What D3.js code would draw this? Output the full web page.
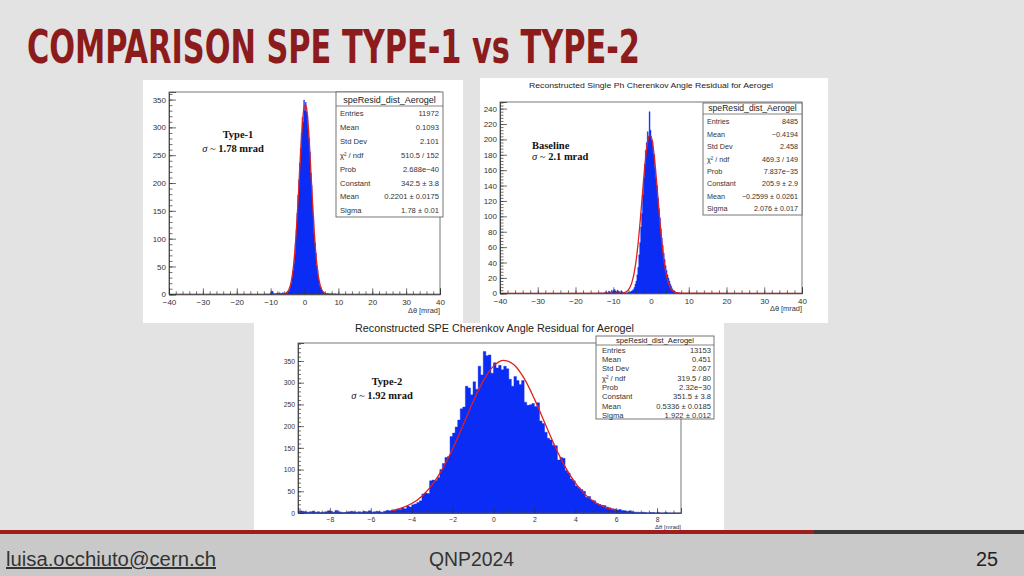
<!DOCTYPE html>
<html><head><meta charset="utf-8">
<script src="https://cdn.jsdelivr.net/npm/d3@7/dist/d3.min.js"></script>
<style>html,body{margin:0;padding:0;background:#e3e3e3;overflow:hidden}</style>
</head><body><svg id="c" width="1024" height="576"></svg>
<script>
// ---------------- DATA ----------------
const slideTitle = "COMPARISON SPE TYPE-1 vs TYPE-2";
const footerTexts = ["luisa.occhiuto@cern.ch", "QNP2024", "25"];

// Panel 1 (Type-1)
const type1Start = -12, type1Width = 0.25;
const type1Counts = [0,0,0,0,0,0,0,0,3,6,5,2,1,0,2,1,2,1,3,2,1,2,3,2,
  2,1,3,2,4,6,9,14,20,30,42,55,70,92,116,146,178,206,236,262,290,318,310,349,330,345,328,322,296,280,256,218,196,160,140,108,92,74,52,44,30,24,15,12,8,6,3,2,
  2,1,1,2,1,0,1,0,1,1,0,0,1,0,0,0];
const type1FitX = [-40,-8,-7,-6.5,-6,-5.5,-5,-4.5,-4,-3.5,-3,-2.5,-2,-1.5,-1,-0.5,0,0.5,1,1.5,2,2.5,3,3.5,4,4.5,5,5.5,6,6.5,7,8,40];
const type1FitY = [0,0.01,0.09,0.28,0.76,1.96,4.65,10.2,20.6,38.6,66.7,106.6,157.4,214.7,270.8,315.6,339.9,338.3,311.2,264.5,207.7,150.8,101.2,62.7,35.9,19.0,9.3,4.2,1.76,0.68,0.24,0.02,0];
const type1XTicks = [-40,-30,-20,-10,0,10,20,30,40];
const type1YTicks = [0,50,100,150,200,250,300,350];
const type1StatLabels = ["Entries","Mean","Std Dev","χ² / ndf","Prob","Constant","Mean","Sigma"];
const type1StatValues = ["11972","0.1093","2.101","510.5 / 152","2.688e−40","342.5 ± 3.8","0.2201 ± 0.0175","1.78 ± 0.01"];

// Panel 2 (Baseline)
const baseStart = -14, baseWidth = 0.25;
const baseCounts = [0,0,0,0,0,0,0,1,2,0,1,3,2,1,4,2,3,5,3,2,4,3,2,1,3,2,1,0,
  0,1,0,1,1,2,2,3,4,5,8,12,16,24,34,50,66,86,104,128,150,168,186,196,210,204,236,212,200,198,182,180,162,150,140,124,110,98,84,72,62,52,44,36,30,24,20,16,12,9,6,4,3,
  2,1,1,0,1,0,0];
const baseFitX = [-40,-8,-7,-6.5,-6,-5.5,-5,-4.5,-4,-3.5,-3,-2.5,-2,-1.5,-1,-0.5,0,0.5,1,1.5,2,2.5,3,3.5,4,4.5,5,5.5,6,7,8,40];
const baseFitY = [0,0.08,1.06,2.25,4.5,8.5,15.2,25.6,40.6,60.9,86.2,115.0,144.9,172.3,193.2,204.5,204.3,192.6,171.3,143.7,113.8,85.1,60.0,39.9,25.1,14.9,8.3,4.4,2.2,0.45,0.08,0];
const baseXTicks = [-40,-30,-20,-10,0,10,20,30,40];
const baseYTicks = [0,20,40,60,80,100,120,140,160,180,200,220,240];
const baseStatLabels = ["Entries","Mean","Std Dev","χ² / ndf","Prob","Constant","Mean","Sigma"];
const baseStatValues = ["8485","−0.4194","2.458","469.3 / 149","7.837e−35","205.9 ± 2.9","−0.2599 ± 0.0261","2.076 ± 0.017"];

// Panel 3 (Type-2)
const type2Start = -9.5, type2Width = 0.125;
const type2Counts = [5,4,3,2,3,4,2,3,1,2,3,5,4,2,6,3,2,1,2,3,4,3,2,3,2,4,3,5,2,3,4,3,2,4,6,5,
  7,6,9,8,12,10,16,14,19,21,24,28,44,46,45,74,76,75,82,100,114,128,130,176,184,198,214,240,244,292,
  288,272,302,285,338,318,372,362,364,322,346,334,340,330,338,332,308,292,314,305,296,305,255,248,249,252,245,254,212,206,
  186,172,168,156,155,122,128,126,98,92,78,74,62,58,54,50,36,38,30,28,22,20,18,17,14,12,10,9,7,8,6,5,4,5,3,2,
  2,1,2,1,0,1,1,0,1,0,0,1,0,0,0,0,0,0];
const type2FitX = [-5,-4.5,-4,-3.5,-3,-2.5,-2,-1.5,-1,-0.5,0,0.5,1,1.5,2,2.5,3,3.5,4,4.5,5,5.5,6];
const type2FitY = [5.6,11.4,21.8,38.8,64.9,101.1,147.4,200.8,255.6,304.2,338.2,351.5,341.3,309.8,262.8,208.3,154.3,106.9,69.1,41.8,23.6,12.5,6.2];
const type2XTicks = [-8,-6,-4,-2,0,2,4,6,8];
const type2YTicks = [0,50,100,150,200,250,300,350];
const type2StatLabels = ["Entries","Mean","Std Dev","χ² / ndf","Prob","Constant","Mean","Sigma"];
const type2StatValues = ["13153","0.451","2.067","319.5 / 80","2.32e−30","351.5 ± 3.8","0.5336 ± 0.0185","1.922 ± 0.012"];

const statTitle = "speResid_dist_Aerogel";
const axisTitle = "Δθ [mrad]";

// ---------------- DRAW ----------------
const svg = d3.select('#c');
svg.append('rect').attr('width',1024).attr('height',576).attr('fill','#e3e3e3');

// title
svg.append('text').attr('x',27).attr('y',63).text(slideTitle)
  .attr('font-family',"'Liberation Sans Narrow','DejaVu Sans Condensed',sans-serif")
  .attr('font-weight','bold').attr('font-size',47).attr('fill','#8c1b1b')
  .attr('textLength',613).attr('lengthAdjust','spacingAndGlyphs');

// footer
svg.append('rect').attr('x',0).attr('y',533).attr('width',1024).attr('height',43).attr('fill','#c9c9c9');

const BLUE = '#0a2cf5', RED = '#e0201c';
const SANS = "'Liberation Sans',Arial,sans-serif";
const SERIF = "'Liberation Serif','DejaVu Serif',serif";

function drawPanel(p) {
  const g = svg.append('g');
  g.append('rect').attr('x',p.bg[0]).attr('y',p.bg[1]).attr('width',p.bg[2]).attr('height',p.bg[3]).attr('fill','#fff');
  const x = d3.scaleLinear().domain(p.xDomain).range([p.l,p.r]);
  const y = d3.scaleLinear().domain(p.yDomain).range([p.b,p.t]);
  const clipId = 'clip'+p.id;
  g.append('clipPath').attr('id',clipId).append('rect').attr('x',p.l).attr('y',p.t).attr('width',p.r-p.l).attr('height',p.b-p.t);
  const pts = p.counts.map((c,i)=>[p.start+i*p.width, c]);
  pts.push([p.start+p.counts.length*p.width, p.counts[p.counts.length-1]]);
  const area = d3.area().x(d=>x(d[0])).y0(y(0)).y1(d=>y(d[1])).curve(d3.curveStepAfter);
  const hg = g.append('g').attr('clip-path',`url(#${clipId})`);
  hg.append('path').attr('d',area(pts)).attr('fill',BLUE).attr('stroke',BLUE).attr('stroke-width',0.4);
  const fit = p.fitX.map((v,i)=>[v,p.fitY[i]]);
  hg.append('path').attr('d',d3.line().x(d=>x(d[0])).y(d=>y(d[1])).curve(d3.curveMonotoneX)(fit))
    .attr('fill','none').attr('stroke',RED).attr('stroke-width',1.3);
  g.append('rect').attr('x',p.l).attr('y',p.t).attr('width',p.r-p.l).attr('height',p.b-p.t)
    .attr('fill','none').attr('stroke','#555').attr('stroke-width',0.8);
  const minorStart = p.xTicks[0]-Math.floor((p.xTicks[0]-p.xDomain[0])/p.xMinor)*p.xMinor;
  const xa = g.append('g').attr('transform',`translate(0,${p.b})`)
    .call(d3.axisBottom(x).tickValues(p.xTicks).tickSize(-p.tickX).tickPadding(p.padX));
  const xm = g.append('g').attr('transform',`translate(0,${p.b})`)
    .call(d3.axisBottom(x).tickValues(d3.range(minorStart, p.xDomain[1]+1e-9, p.xMinor)).tickSize(-p.tickX/2).tickFormat(''));
  const ya = g.append('g').attr('transform',`translate(${p.l},0)`)
    .call(d3.axisLeft(y).tickValues(p.yTicks).tickSize(-p.tickY).tickPadding(p.padY));
  const ym = g.append('g').attr('transform',`translate(${p.l},0)`)
    .call(d3.axisLeft(y).tickValues(d3.range(0, p.yDomain[1], p.yMinor)).tickSize(-p.tickY/2).tickFormat(''));
  [xa,xm,ya,ym].forEach(a=>{
    a.selectAll('.domain').attr('stroke','#333').attr('stroke-width',0.8);
    a.selectAll('line').attr('stroke','#333').attr('stroke-width',0.7);
    a.selectAll('text').attr('font-family',SANS).attr('font-size',p.fs).attr('fill','#333');
  });
  xm.selectAll('.domain').remove(); ym.selectAll('.domain').remove();
  g.append('text').attr('x',p.r).attr('y',p.axY).attr('text-anchor','end').text(axisTitle)
    .attr('font-family',SANS).attr('font-size',p.axFs).attr('fill','#333');
  if (p.title) {
    g.append('text').attr('x',p.title.x).attr('y',p.title.y).text(p.title.text)
      .attr('font-family',SANS).attr('font-size',p.title.fs).attr('fill','#222')
      .attr('textLength',p.title.len).attr('lengthAdjust','spacingAndGlyphs');
  }
  const s = p.stats;
  g.append('rect').attr('x',s.x).attr('y',s.y).attr('width',s.w).attr('height',s.h)
    .attr('fill','#fff').attr('stroke','#666').attr('stroke-width',0.9);
  g.append('line').attr('x1',s.x).attr('x2',s.x+s.w).attr('y1',s.sep).attr('y2',s.sep).attr('stroke','#666').attr('stroke-width',0.8);
  g.append('text').attr('x',s.x+s.w/2).attr('y',s.titleY).attr('text-anchor','middle').text(statTitle)
    .attr('font-family',SANS).attr('font-size',s.titleFs).attr('fill','#222');
  p.labels.forEach((lab,i)=>{
    const yy = s.row0 + i*s.step;
    g.append('text').attr('x',s.x+s.padL).attr('y',yy).text(lab)
      .attr('font-family',SANS).attr('font-size',s.fs).attr('fill','#333');
    g.append('text').attr('x',s.x+s.w-s.padR).attr('y',yy).attr('text-anchor','end').text(p.values[i])
      .attr('font-family',SANS).attr('font-size',s.fs).attr('fill','#333');
  });
  const a = p.note;
  g.append('text').attr('x',a.x1).attr('y',a.y1).attr('text-anchor',a.anchor).text(a.name)
    .attr('font-family',SERIF).attr('font-weight','bold').attr('font-size',a.fs).attr('fill','#111');
  const t2 = g.append('text').attr('x',a.x2).attr('y',a.y2).attr('text-anchor',a.anchor)
    .attr('font-family',SERIF).attr('font-size',a.fs).attr('fill','#111');
  t2.append('tspan').attr('font-style','italic').text('σ');
  t2.append('tspan').text(' ~ ');
  t2.append('tspan').attr('font-weight','bold').text(a.val);
}

drawPanel({id:1, bg:[143,80,320,243], l:169, r:440, t:92, b:294.3,
  xDomain:[-40,40], yDomain:[0,363.6], start:type1Start, width:type1Width, counts:type1Counts,
  fitX:type1FitX, fitY:type1FitY, xTicks:type1XTicks, yTicks:type1YTicks, xMinor:2, yMinor:10,
  tickX:6, tickY:7, padX:5, padY:3, fs:8, axY:313, axFs:7.4,
  stats:{x:336,y:92,w:107,h:125,sep:106,titleY:103,titleFs:9,row0:116,step:13.9,fs:7.6,padL:4,padR:4},
  labels:type1StatLabels, values:type1StatValues,
  note:{anchor:'middle', x1:238, y1:138, x2:233, y2:152, fs:10.5, name:'Type-1', val:'1.78 mrad'}});

drawPanel({id:2, bg:[480,78,348,245], l:500, r:802, t:102, b:293.3,
  xDomain:[-40,40], yDomain:[0,248.6], start:baseStart, width:baseWidth, counts:baseCounts,
  fitX:baseFitX, fitY:baseFitY, xTicks:baseXTicks, yTicks:baseYTicks, xMinor:2, yMinor:4,
  tickX:6, tickY:7, padX:5, padY:3, fs:8, axY:311, axFs:7.4,
  title:{x:529,y:88,fs:8,len:244,text:'Reconstructed Single Ph Cherenkov Angle Residual for Aerogel'},
  stats:{x:703,y:103,w:99,h:112,sep:114,titleY:111,titleFs:8.6,row0:124.3,step:12.4,fs:7.2,padL:4,padR:4},
  labels:baseStatLabels, values:baseStatValues,
  note:{anchor:'start', x1:532, y1:148.5, x2:532, y2:160, fs:10.5, name:'Baseline', val:'2.1 mrad'}});

drawPanel({id:3, bg:[254,323,470,209], l:298, r:681, t:343, b:513,
  xDomain:[-9.56,9.17], yDomain:[0,391.4], start:type2Start, width:type2Width, counts:type2Counts,
  fitX:type2FitX, fitY:type2FitY, xTicks:type2XTicks, yTicks:type2YTicks, xMinor:0.4, yMinor:10,
  tickX:5, tickY:6, padX:4, padY:3, fs:6.8, axY:529, axFs:6,
  title:{x:355,y:332,fs:10,len:279,text:'Reconstructed SPE Cherenkov Angle Residual for Aerogel'},
  stats:{x:596,y:336,w:118,h:83,sep:345,titleY:343,titleFs:7.6,row0:352.7,step:9.3,fs:7.6,padL:6,padR:3},
  labels:type2StatLabels, values:type2StatValues,
  note:{anchor:'middle', x1:387, y1:385, x2:382, y2:398.5, fs:10.5, name:'Type-2', val:'1.92 mrad'}});

// footer line & texts
svg.append('rect').attr('x',0).attr('y',530).attr('width',814).attr('height',4).attr('fill','#9e1d1d');
svg.append('rect').attr('x',814).attr('y',530).attr('width',210).attr('height',4).attr('fill','#3a3a3a');
const FN = "'Liberation Sans',Arial,sans-serif";
svg.append('text').attr('x',6).attr('y',566).text(footerTexts[0]).attr('font-family',FN).attr('font-size',20)
  .attr('fill','#333').attr('text-decoration','underline').attr('textLength',210).attr('lengthAdjust','spacingAndGlyphs');
svg.append('text').attr('x',429).attr('y',566).text(footerTexts[1]).attr('font-family',FN).attr('font-size',20)
  .attr('fill','#333').attr('textLength',85).attr('lengthAdjust','spacingAndGlyphs');
svg.append('text').attr('x',976).attr('y',566).text(footerTexts[2]).attr('font-family',FN).attr('font-size',20)
  .attr('fill','#222').attr('textLength',22).attr('lengthAdjust','spacingAndGlyphs');
</script></body></html>
